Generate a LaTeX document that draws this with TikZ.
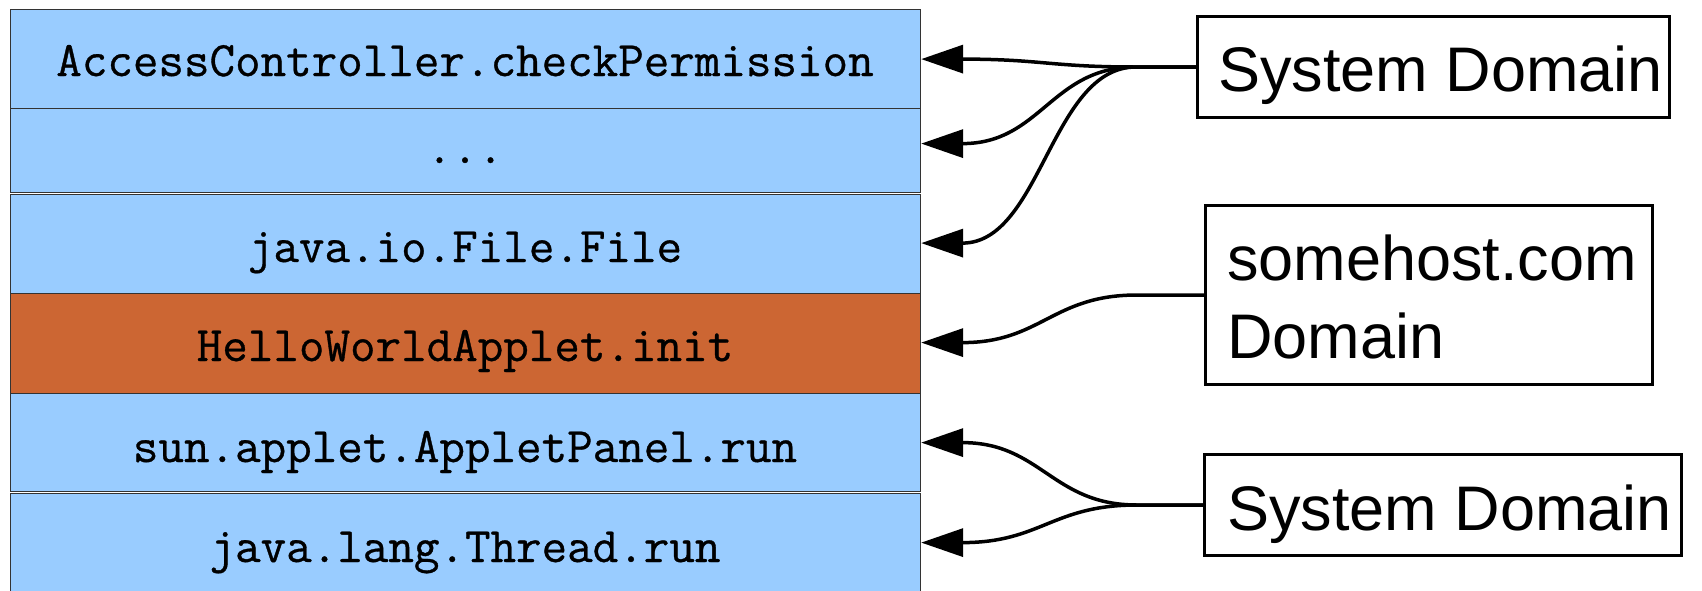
\documentclass[tikz,border=0pt]{standalone}
\usepackage{fontspec}
\setmainfont{Liberation Sans}
\newfontfamily\monof[FakeBold=0.7]{Latin Modern Mono}
\usetikzlibrary{arrows.meta}
\definecolor{rowblue}{RGB}{153,204,255}
\definecolor{roworange}{RGB}{204,102,51}
\begin{document}
\begin{tikzpicture}[x=1pt,y=-1pt,
  row/.style={draw=black!80, line width=1.2pt, fill=rowblue, minimum width=910pt, inner sep=0pt, anchor=north west},
  mono/.style={font=\monof\fontsize{49.6}{50}\selectfont, anchor=base, inner sep=0pt},
  dombox/.style={draw=black, line width=3pt, fill=white, inner sep=0pt, anchor=north west},
  domtext/.style={font=\fontsize{63}{78}\selectfont, anchor=base west, inner sep=0pt},
  arr/.style={line width=3.5pt, -{Triangle[length=42pt,width=28pt]}}
]
\fill[white] (0,0) rectangle (1702,590);
\useasboundingbox (0,0) rectangle (1702,590);
% stack
\node[row, minimum height=99pt] (r1) at (10,9) {};
\node[row, minimum height=84pt] (r2) at (10,108) {};
\node[row, minimum height=99pt] (r3) at (10,194) {};
\node[row, fill=roworange, minimum height=100pt] (r4) at (10,293) {};
\node[row, minimum height=98pt] (r5) at (10,393) {};
\node[row, minimum height=100pt] (r6) at (10,493) {};
\node[mono] (t1) at (465,76) {AccessController.checkPermission};
\node[mono] (t2) at (465,163) {...};
\node[mono] (t3) at (465,262) {java.io.File.File};
\node[mono] (t4) at (465,361) {HelloWorldApplet.init};
\node[mono] (t5) at (465,462) {sun.applet.AppletPanel.run};
\node[mono] (t6) at (465,562) {java.lang.Thread.run};
% domain boxes
\node[dombox, minimum width=472pt, minimum height=101pt] (d1) at (1196,15) {};
\node[domtext] (l1) at (1218,91) {System Domain};
\node[dombox, minimum width=447pt, minimum height=179pt] (d2) at (1204,204) {};
\node[domtext] (l2a) at (1227,280) {somehost.com};
\node[domtext] (l2b) at (1227,358) {Domain};
\node[dombox, minimum width=477pt, minimum height=101pt] (d3) at (1203,453) {};
\node[domtext] (l3) at (1227,530) {System Domain};
% connectors
\draw[arr] (d1.west) -- ++(-60,0) .. controls +(-85,0) and +(120,0) .. (r1.east);
\draw[arr] (d1.west) -- ++(-60,0) .. controls +(-85,0) and +(120,0) .. ([yshift=7pt]r2.east);
\draw[arr] (d1.west) -- ++(-60,0) .. controls +(-85,0) and +(120,0) .. ([yshift=1pt]r3.east);
\draw[arr] (d2.west) -- ++(-67,0) .. controls +(-85,0) and +(120,0) .. ([yshift=1pt]r4.east);
\draw[arr] (d3.west) -- ++(-66,0) .. controls +(-85,0) and +(120,0) .. (r5.east);
\draw[arr] (d3.west) -- ++(-66,0) .. controls +(-85,0) and +(120,0) .. ([yshift=1pt]r6.east);
\end{tikzpicture}
\end{document}
